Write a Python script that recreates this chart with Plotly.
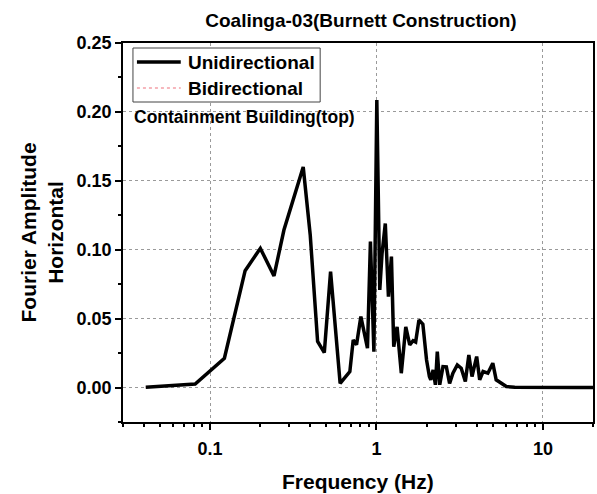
import plotly.graph_objects as go
import math

# ---- data ----
freq_hz = [0.0411, 0.0814, 0.122, 0.1625, 0.2006, 0.2423, 0.278, 0.363, 0.400, 0.443, 0.486,
           0.530, 0.605, 0.692, 0.725, 0.759, 0.806, 0.883, 0.920, 0.965, 1.005, 1.047,
           1.08, 1.13, 1.18, 1.23, 1.27, 1.33, 1.41, 1.50, 1.585, 1.66, 1.72, 1.80, 1.90,
           2.00, 2.08, 2.12, 2.19, 2.26, 2.32, 2.40, 2.51, 2.63, 2.75, 2.88, 3.06, 3.23,
           3.42, 3.59, 3.75, 4.00, 4.17, 4.37, 4.67, 5.00, 5.24, 5.62, 6.03, 6.77, 7.5,
           9.0, 12.0, 16.0, 20.0]
unidirectional = [0.0003, 0.0025, 0.0213, 0.0848, 0.101, 0.081, 0.1143, 0.160, 0.1107, 0.0334, 0.0254,
                  0.0841, 0.003, 0.0116, 0.0346, 0.031, 0.0515, 0.0286, 0.106, 0.026, 0.2086, 0.0708,
                  0.097, 0.119, 0.066, 0.095, 0.0297, 0.044, 0.0104, 0.044, 0.031, 0.034, 0.033, 0.049, 0.046,
                  0.020, 0.008, 0.0056, 0.0128, 0.002, 0.026, 0.002, 0.0152, 0.015, 0.003, 0.0104, 0.0164, 0.014,
                  0.0044, 0.0237, 0.008, 0.0225, 0.0056, 0.0116, 0.0104, 0.0177, 0.0056, 0.003, 0.0007, 0.0003, 0.0002,
                  0.0001, 0.0001, 0.00005, 0.00003]
bidirectional = list(unidirectional)

series_names = ["Unidirectional", "Bidirectional"]
y_ticks = [0.0, 0.05, 0.10, 0.15, 0.20, 0.25]
y_ticklabels = ["0.00", "0.05", "0.10", "0.15", "0.20", "0.25"]
x_ticks = [0.1, 1, 10]
x_ticklabels = ["0.1", "1", "10"]
x_minor = [0.03, 0.04, 0.05, 0.06, 0.07, 0.08, 0.09,
           0.2, 0.3, 0.4, 0.5, 0.6, 0.7, 0.8, 0.9,
           2, 3, 4, 5, 6, 7, 8, 9, 20]

FONT = "Liberation Sans, Arial, sans-serif"
UNI_COLOR = "black"
BI_COLOR = "#F4A0A8"

fig = go.Figure()
fig.add_trace(go.Scatter(x=freq_hz, y=bidirectional, mode="lines", name=series_names[1],
                         line=dict(color=BI_COLOR, width=1.5, dash="dot")))
fig.add_trace(go.Scatter(x=freq_hz, y=unidirectional, mode="lines", name=series_names[0],
                         line=dict(color=UNI_COLOR, width=3.5)))

W, H = 597, 494
L, R, T, B = 123, 2, 43, 72
PW, PH = W - L - R, H - T - B

def px(xp):  # pixel -> paper x
    return (xp - L) / PW

def py(yp):  # pixel -> paper y
    return (H - B - yp) / PH

fig.update_layout(
    width=W, height=H,
    margin=dict(l=L, r=R, t=T, b=B),
    paper_bgcolor="white", plot_bgcolor="white",
    font=dict(family=FONT, color="black"),
    showlegend=False,
    title=dict(text="Coalinga-03(Burnett Construction)", x=px(362), xref="paper", xanchor="center",
               y=1 - 20 / H, yanchor="middle",
               font=dict(family=FONT, size=19, weight="bold")),
)

fig.update_xaxes(type="log", range=[math.log10(0.03), math.log10(20)],
                 tickmode="array", tickvals=x_ticks, ticktext=x_ticklabels,
                 ticks="outside", ticklen=6, tickwidth=1.5, tickcolor="black",
                 ticklabelstandoff=4,
                 showline=True, linecolor="black", linewidth=1.5, mirror=True,
                 showgrid=True, gridcolor="#9a9a9a", gridwidth=1, griddash="3px,3px",
                 zeroline=False,
                 tickfont=dict(family=FONT, size=18, weight="bold"),
                 minor=dict(tickmode="array", tickvals=x_minor, ticks="outside", ticklen=3,
                            tickwidth=1.5, tickcolor="black", showgrid=False))
fig.update_yaxes(range=[-0.025, 0.25],
                 tickmode="array", tickvals=y_ticks, ticktext=y_ticklabels,
                 ticks="outside", ticklen=6, tickwidth=1.5, tickcolor="black",
                 showline=True, linecolor="black", linewidth=1.5, mirror=True,
                 showgrid=True, gridcolor="#9a9a9a", gridwidth=1, griddash="3px,3px",
                 zeroline=False,
                 tickfont=dict(family=FONT, size=18, weight="bold"),
                 minor=dict(tickmode="linear", tick0=-0.025, dtick=0.05, ticks="outside", ticklen=3,
                            tickwidth=1.5, tickcolor="black", showgrid=False))

# legend drawn manually (box, line samples, labels)
fig.add_shape(type="rect", xref="paper", yref="paper",
              x0=px(133), x1=px(321), y0=py(102), y1=py(48),
              line=dict(color="#444", width=1), fillcolor="white", layer="above")
fig.add_shape(type="line", xref="paper", yref="paper",
              x0=px(137), x1=px(181), y0=py(62), y1=py(62),
              line=dict(color=UNI_COLOR, width=3.5), layer="above")
fig.add_shape(type="line", xref="paper", yref="paper",
              x0=px(137), x1=px(181), y0=py(88), y1=py(88),
              line=dict(color=BI_COLOR, width=1.5, dash="dot"), layer="above")
for name, yy in zip(series_names, [62, 88]):
    fig.add_annotation(text=name, xref="paper", yref="paper",
                       x=px(186), y=py(yy), xanchor="left", yanchor="middle",
                       showarrow=False, font=dict(family=FONT, size=19, weight="bold"))

fig.add_annotation(text="Containment Building(top)", xref="paper", yref="paper",
                   x=px(132), y=py(117), xanchor="left", yanchor="middle",
                   showarrow=False, font=dict(family=FONT, size=17.5, weight="bold"))
fig.add_annotation(text="Fourier Amplitude<br>Horizontal", xref="paper", yref="paper",
                   x=0, y=0.5, xanchor="center", yanchor="middle", xshift=-(L - 41),
                   textangle=-90, showarrow=False,
                   font=dict(family=FONT, size=21, weight="bold"))
fig.add_annotation(text="Frequency (Hz)", xref="paper", yref="paper",
                   x=0.5, y=0, xanchor="center", yanchor="middle", yshift=-(481 - (H - B)),
                   showarrow=False, font=dict(family=FONT, size=21, weight="bold"))

fig.write_html("out.html")
